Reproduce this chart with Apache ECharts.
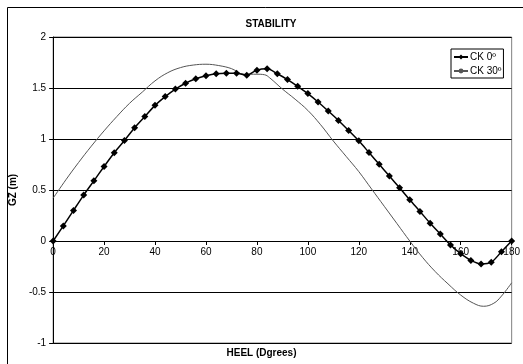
<!DOCTYPE html>
<html>
<head>
<meta charset="utf-8">
<script src="https://cdn.jsdelivr.net/npm/echarts@6/dist/echarts.min.js"></script>
<style>
  html, body { margin: 0; padding: 0; background: #fff; }
  #chart { width: 523px; height: 364px; }
</style>
</head>
<body>
<div id="chart"></div>
<script>
// heel angle for the CK 0º points (every 4 degrees)
var heel0 = [0,4,8,12,16,20,24,28,32,36,40,44,48,52,56,60,64,68,72,76,80,84,88,
             92,96,100,104,108,112,116,120,124,128,132,136,140,144,148,152,156,
             160,164,168,172,176,180];
var gz0 = [0,0.148,0.30,0.45,0.59,0.73,0.865,0.985,1.11,1.22,1.33,1.416,1.49,1.547,
           1.59,1.62,1.64,1.645,1.645,1.626,1.675,1.688,1.64,1.583,1.517,1.445,1.363,
           1.274,1.182,1.084,0.982,0.867,0.752,0.637,0.522,0.404,0.29,0.174,0.068,
           -0.039,-0.124,-0.19,-0.225,-0.208,-0.105,0];

// CK 30º curve
var heel30 = [0,5,10,15,20,25,30,35,40,45,50,55,60,65,70,75,80,83,85,90,95,100,105,
              110,115,120,125,130,135,140,145,150,155,160,165,169,173,176,180];
var gz30 = [0.42,0.60,0.77,0.93,1.08,1.22,1.35,1.46,1.57,1.65,1.70,1.725,1.733,1.72,
            1.69,1.635,1.635,1.63,1.60,1.49,1.39,1.28,1.14,0.98,0.83,0.68,0.51,0.34,
            0.17,0.0,-0.16,-0.30,-0.42,-0.53,-0.61,-0.64,-0.61,-0.54,-0.41];

var xTicks = [0, 180, 20];
var yTicks = [-1, 2, 0.5];

var font = '"Liberation Sans", Arial, sans-serif';

function pairs(xs, ys) {
    var out = [];
    for (var i = 0; i < xs.length; i++) out.push([xs[i], ys[i]]);
    return out;
}

var gridTop = 37, gridBottom = 21, chartH = 364;
// move the x axis up to y = 0 (onZero is not picked up here)
var plotH = chartH - gridTop - gridBottom;
var zeroOffset = -plotH * (0 - yTicks[0]) / (yTicks[1] - yTicks[0]);

var chart = echarts.init(document.getElementById('chart'));

var option = {
    backgroundColor: '#fff',
    animation: false,
    textStyle: { fontFamily: font },
    title: {
        text: 'STABILITY',
        left: 266,
        top: 14,
        textAlign: 'center',
        textStyle: { fontSize: 10, fontWeight: 'bold', color: '#000', fontFamily: font }
    },
    graphic: [
        {
            type: 'rect',
            left: 5, top: 5,
            shape: { width: 530, height: 370 },
            style: { fill: 'none', stroke: '#000', lineWidth: 1 },
            silent: true
        },
        {
            type: 'text',
            left: 'center',
            top: 348,
            x: 22,
            style: { text: 'HEEL (Dgrees)', font: 'bold 10px ' + font, fill: '#000' }
        }
    ],
    legend: {
        left: 451,
        top: 49,
        orient: 'vertical',
        itemWidth: 14,
        itemHeight: 6,
        itemGap: 4,
        padding: [3, 2, 2, 2],
        borderColor: '#000',
        borderWidth: 1,
        backgroundColor: '#fff',
        textStyle: { fontSize: 10, color: '#000', fontFamily: font, padding: [0, 0, 0, -3] },
        data: ['CK 0º', 'CK 30º']
    },
    grid: {
        left: 53,
        right: 5,
        top: gridTop,
        bottom: gridBottom,
        show: true,
        borderColor: '#808080',
        borderWidth: 1
    },
    xAxis: {
        type: 'value',
        min: xTicks[0],
        max: xTicks[1],
        interval: xTicks[2],
        position: 'bottom',
        offset: zeroOffset,
        axisLine: { onZero: false, lineStyle: { color: '#000', width: 1 } },
        axisTick: { show: true, inside: false, length: 4, lineStyle: { color: '#000' } },
        axisLabel: { fontSize: 10, color: '#000', margin: 6, fontFamily: font, showMaxLabel: true },
        splitLine: { show: false }
    },
    yAxis: {
        type: 'value',
        min: yTicks[0],
        max: yTicks[1],
        interval: yTicks[2],
        name: 'GZ (m)',
        nameLocation: 'middle',
        nameGap: 32,
        nameRotate: 90,
        nameTextStyle: { fontSize: 10, fontWeight: 'bold', color: '#000', fontFamily: font },
        axisLine: { show: true, onZero: false, lineStyle: { color: '#000', width: 1 } },
        axisTick: { show: true, inside: false, length: 4, lineStyle: { color: '#000' } },
        axisLabel: { fontSize: 10, color: '#000', margin: 7, fontFamily: font },
        splitLine: { show: true, lineStyle: { color: '#000', width: 1 } }
    },
    series: [
        {
            name: 'CK 0º',
            type: 'line',
            data: pairs(heel0, gz0),
            symbol: 'diamond',
            symbolSize: 7,
            showSymbol: true,
            smooth: 0.3,
            lineStyle: { color: '#000', width: 1.5 },
            itemStyle: { color: '#000' },
            z: 3
        },
        {
            name: 'CK 30º',
            type: 'line',
            data: pairs(heel30, gz30),
            symbol: 'none',
            smooth: 0.4,
            lineStyle: { color: '#555', width: 1 },
            itemStyle: { color: '#555' },
            z: 2
        }
    ]
};

chart.setOption(option);
</script>
</body>
</html>
